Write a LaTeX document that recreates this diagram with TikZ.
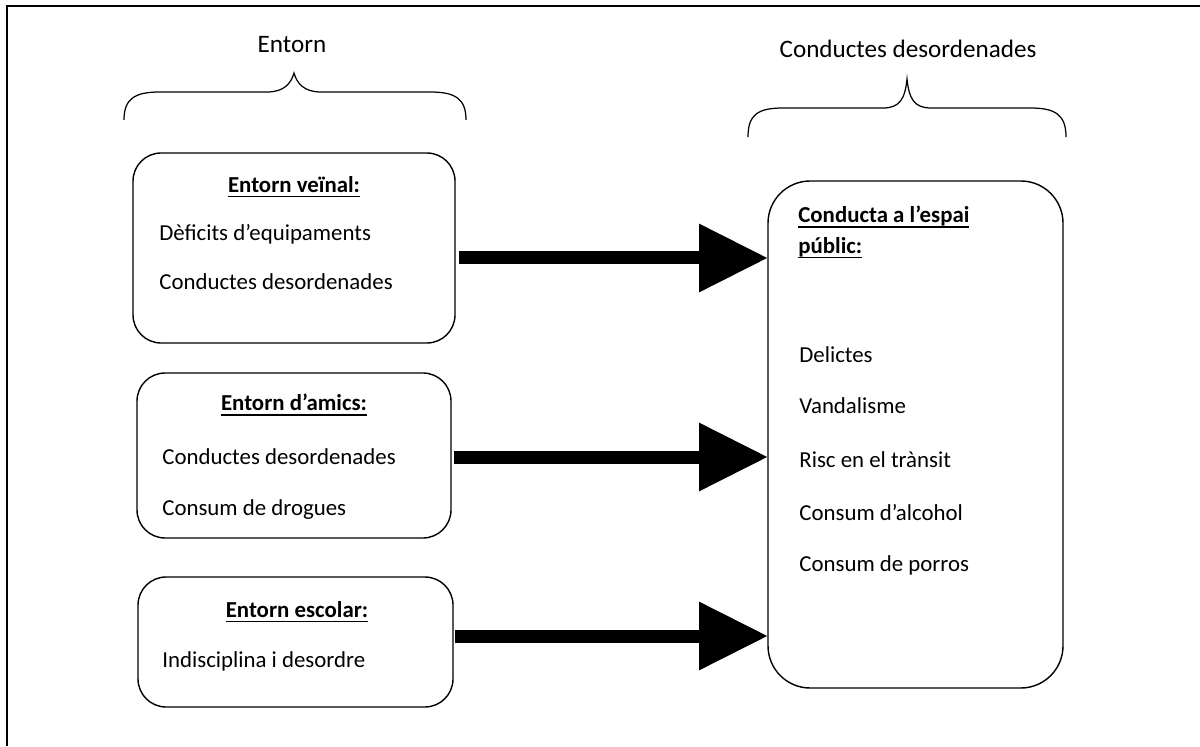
\documentclass[tikz,border=0pt]{standalone}
\usepackage{fontspec}
\setmainfont{Carlito}
\usepackage{tikz}
\usetikzlibrary{calc}
\usetikzlibrary{positioning}
\usetikzlibrary{arrows.meta}

\tikzset{
    box/.style={draw, line width=0.8pt, rounded corners=16pt, inner sep=0pt, outer sep=0pt},
    item/.style={anchor=west, inner sep=0pt},
    head/.style={inner sep=0pt},
    big/.style={font=\fontsize{14.3}{17}\selectfont},
    curly/.style={draw, line width=0.7pt},
    bigarrow/.style={draw, line width=0.26cm, -{Triangle[length=1.38cm, width=1.3cm]}}
}
\newsavebox{\titolbox}
\newcommand{\titol}[1]{\sbox{\titolbox}{\textbf{#1}}\rlap{\rule[-2.7pt]{\wd\titolbox}{0.9pt}}\usebox{\titolbox}}

\begin{document}
\begin{tikzpicture}[scale=1, font=\fontsize{13}{15.6}\selectfont]

        \useasboundingbox (0,0) rectangle (24,14.92);

        \path[draw, line width=1.4pt] (0.14,0) -- (0.14,14.8) -- (24,14.8);

        % headings and braces
        \node[head, big] (entorn) at (5.84,14.02) {Entorn};
        \node[head, big] (conductes) at (18.16,13.94) {Conductes desordenades};

        \coordinate (ltip) at (5.88,13.46);
        \coordinate (rtip) at (18.14,13.34);

        \path[curly] (2.48,12.52) .. controls (2.48,12.95) and (2.7,13.08) .. (3.2,13.08) -- (5.34,13.08)
            .. controls (5.68,13.08) and (5.82,13.25) .. (ltip)
            .. controls (5.94,13.25) and (6.08,13.08) .. (6.42,13.08) -- (8.6,13.08)
            .. controls (9.1,13.08) and (9.32,12.95) .. (9.32,12.52);
        \path[curly] (14.96,12.18) .. controls (14.96,12.63) and (15.16,12.76) .. (15.66,12.76) -- (17.66,12.76)
            .. controls (18.0,12.76) and (18.1,12.95) .. (rtip)
            .. controls (18.18,12.95) and (18.28,12.76) .. (18.62,12.76) -- (20.6,12.76)
            .. controls (21.1,12.76) and (21.32,12.63) .. (21.32,12.18);

        % boxes
        \node[box, minimum width=6.44cm, minimum height=3.8cm] (veinal) at (5.88,9.96) {};
        \node[box, minimum width=6.28cm, minimum height=3.3cm] (amics) at (5.88,5.81) {};
        \node[box, minimum width=6.3cm, minimum height=2.6cm] (escolar) at (5.91,2.08) {};
        \node[box, rounded corners=24pt, minimum width=5.9cm, minimum height=10.14cm] (espai) at (18.31,6.23) {};

        \node[head] (tveinal) at (5.88,11.18) {\titol{Entorn veïnal:}};
        \node[item] (v1) at (3.18,10.24) {Dèficits d’equipaments};
        \node[item] (v2) at (3.18,9.28) {Conductes desordenades};

        \node[head] (tamics) at (5.88,6.82) {\titol{Entorn d’amics:}};
        \node[item] (a1) at (3.24,5.78) {Conductes desordenades};
        \node[item] (a2) at (3.24,4.72) {Consum de drogues};

        \node[head] (tescolar) at (5.94,2.68) {\titol{Entorn escolar:}};
        \node[item] (e1) at (3.24,1.70) {Indisciplina i desordre};

        \node[item] (tespai1) at (15.96,10.58) {\titol{Conducta a l’espai}};
        \node[item] (tespai2) at (15.96,9.96) {\titol{públic:}};
        \node[item] (p1) at (15.98,7.82) {Delictes};
        \node[item] (p2) at (15.98,6.80) {Vandalisme};
        \node[item] (p3) at (15.98,5.72) {Risc en el trànsit};
        \node[item] (p4) at (15.98,4.66) {Consum d’alcohol};
        \node[item] (p5) at (15.98,3.62) {Consum de porros};

        % arrows
        \coordinate (s1) at ([shift={(0.08,-0.2)}]veinal.east);
        \coordinate (s2) at ([shift={(0.06,-0.03)}]amics.east);
        \coordinate (s3) at ([shift={(0.04,0.12)}]escolar.east);

        \path[bigarrow] (s1) -- (s1 -| espai.west);
        \path[bigarrow] (s2) -- (s2 -| espai.west);
        \path[bigarrow] (s3) -- (s3 -| espai.west);

    \end{tikzpicture}
\end{document}
